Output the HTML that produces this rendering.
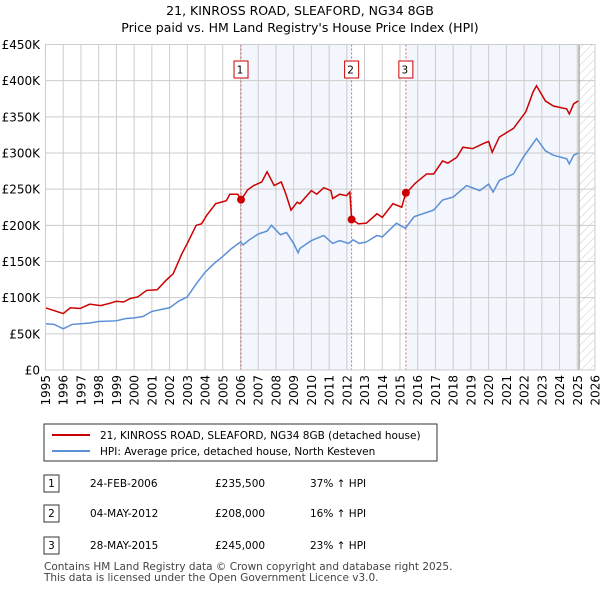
<!DOCTYPE html>
<html><head><meta charset="utf-8"><style>
body{margin:0;background:#fff;font-family:"Liberation Sans","DejaVu Sans",sans-serif;}
svg text{font-family:"DejaVu Sans","Liberation Sans",sans-serif;}
</style></head><body>
<svg id="chart" width="600" height="590" viewBox="0 0 600 590" xmlns="http://www.w3.org/2000/svg">
<defs><pattern id="hatch" width="6" height="6" patternUnits="userSpaceOnUse" patternTransform="rotate(45)"><line x1="0" y1="0" x2="0" y2="6" stroke="#ccc" stroke-width="1"/></pattern></defs>
<text x="300" y="15" text-anchor="middle" font-size="12.5">21, KINROSS ROAD, SLEAFORD, NG34 8GB</text>
<text x="300" y="32" text-anchor="middle" font-size="12.5">Price paid vs. HM Land Registry's House Price Index (HPI)</text>
<g id="plot"></g>
<g>
<rect x="44" y="424" width="393" height="37" fill="#fff" stroke="#333" stroke-width="1"/>
<line x1="52" y1="435" x2="90" y2="435" stroke="#cc0000" stroke-width="2"/>
<text x="100" y="439" font-size="10.5">21, KINROSS ROAD, SLEAFORD, NG34 8GB (detached house)</text>
<line x1="52" y1="451" x2="90" y2="451" stroke="#5b8fd6" stroke-width="2"/>
<text x="100" y="455" font-size="10.5">HPI: Average price, detached house, North Kesteven</text>
</g>
<g font-size="10.5">
<rect x="44" y="475" width="15" height="17" fill="#fff" stroke="#333"/><text x="51.5" y="487" text-anchor="middle">1</text>
<text x="90" y="487">24-FEB-2006</text><text x="215" y="487">£235,500</text><text x="310" y="487">37% ↑ HPI</text>
<rect x="44" y="505" width="15" height="17" fill="#fff" stroke="#333"/><text x="51.5" y="517" text-anchor="middle">2</text>
<text x="90" y="517">04-MAY-2012</text><text x="215" y="517">£208,000</text><text x="310" y="517">16% ↑ HPI</text>
<rect x="44" y="537" width="15" height="17" fill="#fff" stroke="#333"/><text x="51.5" y="549" text-anchor="middle">3</text>
<text x="90" y="549">28-MAY-2015</text><text x="215" y="549">£245,000</text><text x="310" y="549">23% ↑ HPI</text>
</g>
<text x="44" y="570" font-size="10.5" fill="#444">Contains HM Land Registry data © Crown copyright and database right 2025.</text>
<text x="44" y="581" font-size="10.5" fill="#444">This data is licensed under the Open Government Licence v3.0.</text>
</svg>
<script>
const hpiDates=[1995,1995.5,1996,1996.5,1997.5,1998,1999,1999.5,2000,2000.5,2001,2002,2002.5,2003,2003.5,2004,2004.5,2005,2005.5,2006,2006.15,2006.5,2007,2007.5,2007.75,2008.25,2008.6,2009,2009.25,2009.35,2010,2010.7,2011.2,2011.6,2012.1,2012.35,2012.7,2013.1,2013.7,2014,2014.8,2015.3,2015.8,2016.9,2017.4,2018,2018.75,2019.5,2020,2020.25,2020.6,2021.4,2021.95,2022.7,2023.2,2023.65,2024.4,2024.55,2024.8,2025.05];
const hpiValues=[64,63,57,63,65,67,68,71,72,74,81,86,95,101,119,135,147,157,168,177,173,180,188,192,200,187,190,175,162,168,179,186,175,179,175,180,175,177,186,184,203,196,212,221,235,239,255,248,257,246,262,271,294,320,303,297,292,285,297,300];
const priceDates=[1995,1996,1996.4,1996.95,1997.5,1998.1,1998.6,1999,1999.4,1999.8,2000.2,2000.7,2001.3,2001.8,2002.2,2002.7,2003,2003.5,2003.8,2004.1,2004.6,2005.2,2005.4,2005.85,2006.03,2006.4,2006.75,2007.2,2007.5,2007.9,2008.3,2008.55,2008.85,2009.2,2009.35,2010,2010.3,2010.7,2011.1,2011.2,2011.6,2011.98,2012.17,2012.27,2012.65,2013.1,2013.7,2014,2014.6,2015.1,2015.3,2015.85,2016.5,2016.9,2017.4,2017.7,2018.2,2018.55,2019.1,2019.7,2020,2020.2,2020.6,2021.4,2022.1,2022.5,2022.7,2023.2,2023.65,2024.4,2024.55,2024.8,2025.05];
const priceValues=[86,78,86,85,91,89,92,95,94,99,101,110,111,124,133,161,175,200,202,214,230,234,243,243,235,249,255,260,274,255,260,244,221,232,230,248,243,252,248,237,243,241,246,209,202,203,216,211,230,225,243,258,271,271,289,286,294,308,306,313,316,301,322,334,357,384,393,372,365,361,354,368,372];
const saleDates=[2006.03,2012.27,2015.33];
const saleValues=[235.5,208,245];
const saleLabels=["1","2","3"];
const yTicks=[0,50,100,150,200,250,300,350,400,450];
const yTickLabels=["£0","£50K","£100K","£150K","£200K","£250K","£300K","£350K","£400K","£450K"];
const NS="http://www.w3.org/2000/svg";
const X0=45.5,X1=595,Y0=370,Y1=44.5;
const xS=d=>X0+(d-1995)/(2026-1995)*(X1-X0);
const yS=v=>Y0-v/450*(Y0-Y1);
const g=document.getElementById('plot');
function mk(t,a){const e=document.createElementNS(NS,t);for(const k in a)e.setAttribute(k,a[k]);g.appendChild(e);return e;}
let r;
r=mk('rect',{x:xS(saleDates[0]),y:Y1,width:xS(saleDates[1])-xS(saleDates[0]),height:Y0-Y1,fill:'#eef2fc',opacity:0.7});

r=mk('rect',{x:xS(saleDates[2]),y:Y1,width:xS(2025)-xS(saleDates[2]),height:Y0-Y1,fill:'#eef2fc',opacity:0.7});

r=mk('rect',{x:xS(2025.1),y:Y1,width:X1-xS(2025.1),height:Y0-Y1,fill:'url(#hatch)'});

for(let y=1995;y<=2026;y++){
 r=mk('line',{x1:xS(y),x2:xS(y),y1:Y1,y2:Y0,stroke:'#ccc','stroke-width':1});
 
 r=mk('text',{x:0,y:0,'font-size':12,'text-anchor':'end',transform:`translate(${xS(y)+4.5},${Y0+5}) rotate(-90)`});
 r.textContent=y;
}
yTicks.forEach((v,i)=>{
 r=mk('line',{x1:X0,x2:X1,y1:yS(v),y2:yS(v),stroke:'#ccc','stroke-width':1});
 
 r=mk('text',{x:40,y:yS(v)+4.5,'font-size':12,'text-anchor':'end'});
 r.textContent=yTickLabels[i];
});
r=mk('line',{x1:xS(2025.1),x2:xS(2025.1),y1:Y1,y2:Y0,stroke:'#999','stroke-width':1.2});

saleDates.forEach((d,i)=>{
 r=mk('line',{x1:xS(d),x2:xS(d),y1:Y1,y2:Y0,stroke:'#e06060','stroke-width':1,'stroke-dasharray':'2,2'});
 
 r=mk('rect',{x:xS(d)-7,y:61,width:14,height:17,fill:'#fff',stroke:'#cc0000'});
 
 r=mk('text',{x:xS(d)-1,y:73.5,'font-size':10.5,'text-anchor':'middle'});
 r.textContent=saleLabels[i];
});
r=mk('polyline',{points:hpiDates.map((d,i)=>xS(d)+','+yS(hpiValues[i])).join(' '),fill:'none',stroke:'#5b8fd6','stroke-width':1.5});

r=mk('polyline',{points:priceDates.map((d,i)=>xS(d)+','+yS(priceValues[i])).join(' '),fill:'none',stroke:'#cc0000','stroke-width':1.5});

saleDates.forEach((d,i)=>{
 r=mk('circle',{cx:xS(d),cy:yS(saleValues[i]),r:4,fill:'#cc0000'});
 
});
r=mk('rect',{x:X0,y:Y1,width:X1-X0,height:Y0-Y1,fill:'none',stroke:'#ccc'});

</script>
</body></html>
